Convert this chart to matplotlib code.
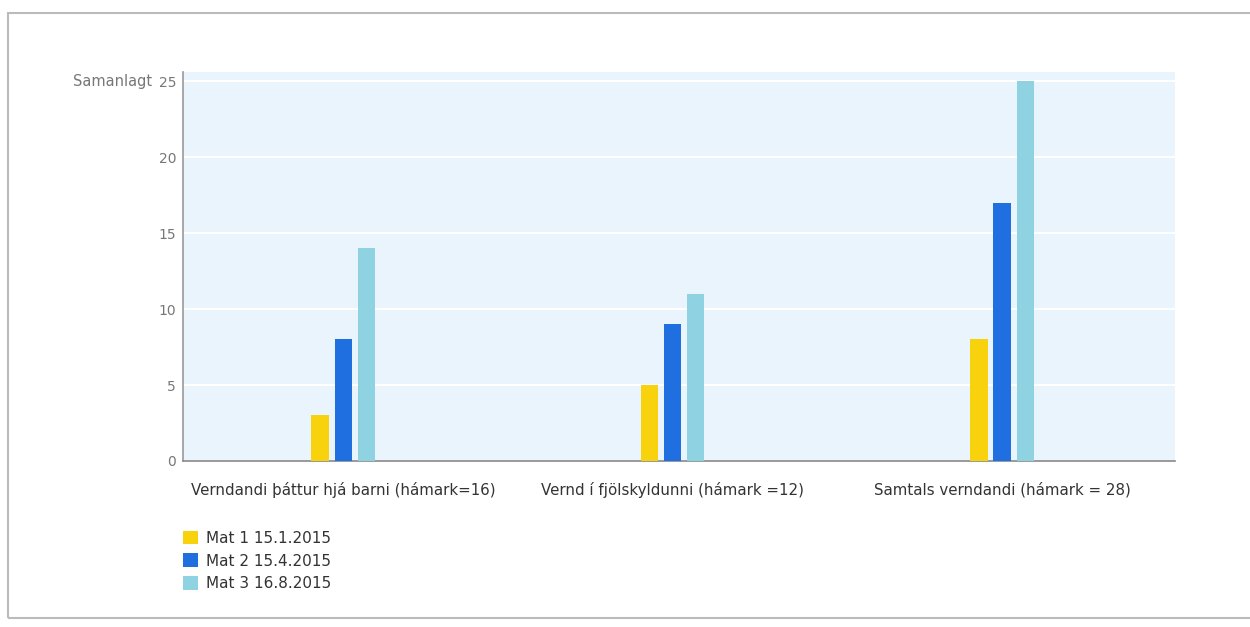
import matplotlib
matplotlib.use("Agg")
import matplotlib.pyplot as plt
from matplotlib.patches import Rectangle
import numpy as np

categories = ["Verndandi þáttur hjá barni (hámark=16)",
              "Vernd í fjölskyldunni (hámark =12)",
              "Samtals verndandi (hámark = 28)"]
series_names = ["Mat 1 15.1.2015", "Mat 2 15.4.2015", "Mat 3 16.8.2015"]
mat1 = [3, 5, 8]
mat2 = [8, 9, 17]
mat3 = [14, 11, 25]
yticks = [0, 5, 10, 15, 20, 25]
colors = ["#F9D20E", "#1F6FE0", "#8FD3E3"]

plt.rcParams['font.family'] = ['DejaVu Sans']

W, H = 1250, 627
fig = plt.figure(figsize=(W / 100, H / 100), dpi=100)

# outer frame of the screenshot
frame = Rectangle((8 / W, 1 - 618 / H), (W + 20) / W, (618 - 13) / H,
                  transform=fig.transFigure, fill=False,
                  edgecolor="#BBBBBB", linewidth=1.5)
fig.patches.append(frame)

ax = fig.add_axes([183 / W, 1 - 461 / H, 992 / W, 389 / H])
ax.set_facecolor("#EAF4FD")

x = np.arange(len(categories))
bw = 0.052
step = 0.07
for i, (vals, c, name) in enumerate(zip([mat1, mat2, mat3], colors, series_names)):
    ax.bar(x + (i - 1) * step, vals, width=bw, color=c, label=name, zorder=3)

ax.set_ylim(0, 25.6)
ax.set_xlim(-0.486, 2.525)
ax.set_yticks(yticks)
ax.set_yticklabels([str(t) for t in yticks], color="#777777", fontsize=10)
ax.yaxis.grid(True, color="white", linewidth=1.5, zorder=1)
ax.set_axisbelow(True)
ax.tick_params(axis='y', length=0, pad=5)
ax.tick_params(axis='x', length=0, pad=15)
ax.set_xticks(x)
ax.set_xticklabels(categories, color="#333333", fontsize=10.8)

for s in ["top", "right"]:
    ax.spines[s].set_visible(False)
ax.spines["left"].set_color("#999999")
ax.spines["bottom"].set_color("#888888")
ax.spines["left"].set_linewidth(1.2)
ax.spines["bottom"].set_linewidth(1.2)

# "Samanlagt" label placed left of the 25 tick label
ax.text(-31 / 992, 25, "Samanlagt", transform=ax.get_yaxis_transform(),
        ha="right", va="center", color="#777777", fontsize=10.5)

fig.legend(loc="upper left", bbox_to_anchor=(169 / W, 1 - 517 / H),
           frameon=False, fontsize=11, handlelength=1.0, handleheight=1.0,
           labelspacing=0.5, handletextpad=0.5, labelcolor="#333333")

fig.savefig("out.png", dpi=100)
